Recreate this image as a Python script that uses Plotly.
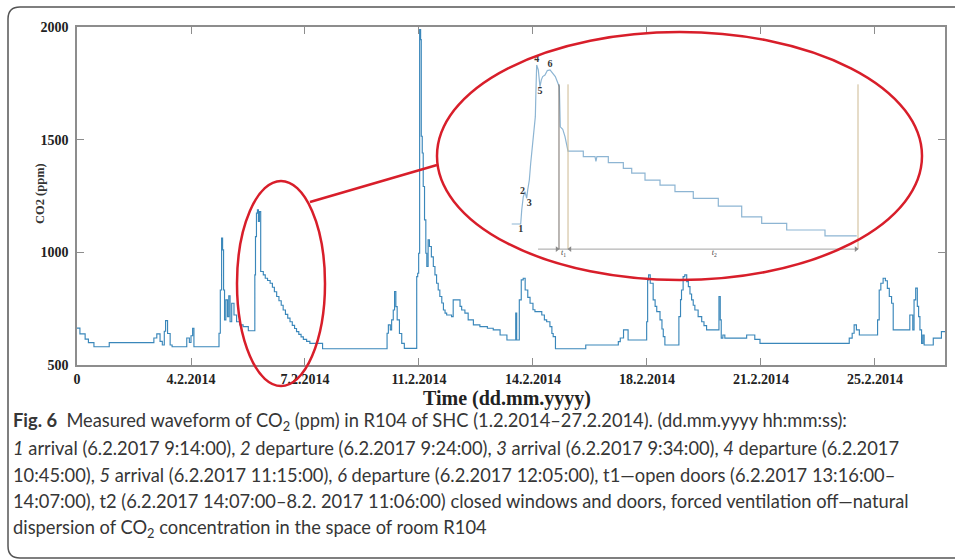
import plotly.graph_objects as go

W, H = 955, 560

# CO2 record in room R104, days since 1.2.2014 00:00 (sample-and-hold values, ppm)
days = [0.00, 0.09, 0.25, 0.35, 0.52, 0.99, 2.36, 2.45, 2.55, 2.62, 2.68, 2.72, 2.78, 2.86,
        2.92, 3.37, 3.45, 3.50, 3.55, 3.59, 4.36, 4.40, 4.44, 4.47, 4.50, 4.53, 4.57, 4.62,
        4.66, 4.70, 4.75, 4.82, 4.90, 5.00, 5.10, 5.26, 5.46, 5.48, 5.51, 5.54, 5.57, 5.60,
        5.64, 5.72, 5.78, 5.85, 5.93, 6.00, 6.06, 6.13, 6.20, 6.27, 6.33, 6.40, 6.47, 6.54,
        6.61, 6.68, 6.74, 6.81, 6.88, 6.95, 7.05, 7.15, 7.54, 9.52, 9.56, 9.62, 9.66, 9.71,
        9.75, 9.79, 9.83, 9.90, 9.97, 10.05, 10.43, 10.46, 10.49, 10.52, 10.55, 10.57, 10.60,
        10.63, 10.67, 10.71, 10.74, 10.78, 10.82, 10.88, 10.94, 10.99, 11.04, 11.09, 11.14,
        11.20, 11.25, 11.30, 11.35, 11.50, 11.55, 11.76, 11.81, 11.91, 12.01, 12.17, 12.37,
        12.60, 12.78, 12.99, 13.20, 13.47, 13.50, 13.58, 13.64, 13.70, 13.76, 13.84, 13.91,
        14.00, 14.06, 14.27, 14.35, 14.42, 14.52, 14.58, 14.62, 14.69, 15.62, 16.62, 16.68,
        16.78, 16.92, 17.49, 17.52, 17.55, 17.60, 17.69, 17.75, 17.80, 17.90, 17.96, 18.00,
        18.05, 18.48, 18.53, 18.56, 18.61, 18.66, 18.72, 18.77, 18.82, 18.87, 18.92, 18.97,
        19.07, 19.18, 19.25, 19.33, 19.71, 19.75, 19.78, 19.83, 19.89, 20.56, 20.81, 20.97,
        23.71, 23.80, 23.86, 23.93, 24.02, 24.58, 24.63, 24.68, 24.75, 24.82, 24.88, 24.94,
        25.01, 25.06, 25.57, 25.66, 25.70, 25.75, 25.80, 25.84, 25.88, 25.93, 25.97, 26.01,
        26.29, 26.54, 26.65]
co2 = [664, 638, 615, 599, 581, 599, 620, 638, 605, 589, 650, 697, 640, 589,
       581, 620, 600, 630, 663, 581, 641, 833, 1063, 1011, 833, 700, 789, 715,
       807, 692, 774, 722, 692, 678, 670, 652, 900, 1070, 1174, 1189, 1137, 1181,
       915, 900, 885, 875, 863, 845, 825, 804, 785, 765, 744, 725, 708, 692,
       676, 662, 648, 636, 625, 614, 605, 596, 572, 641, 678, 656, 700, 744,
       826, 759, 700, 640, 596, 574, 892, 907, 996, 1989, 1944, 1515, 1441,
       1292, 1144, 996, 937, 1056, 1026, 980, 937, 900, 863, 833, 804,
       775, 744, 730, 722, 715, 789, 760, 744, 730, 700, 678, 670,
       663, 656, 633, 611, 730, 611, 789, 878, 885, 833, 800, 774,
       745, 737, 722, 700, 692, 670, 640, 626, 572, 589, 604, 620,
       656, 611, 692, 878, 900, 863, 789, 760, 737, 700, 660, 626,
       589, 715, 790, 833, 892, 900, 870, 848, 815, 789, 765, 744,
       715, 692, 675, 656, 804, 700, 619, 633, 619, 633, 614, 596,
       619, 641, 678, 656, 633, 700, 833, 863, 885, 874, 840, 804,
       774, 656, 722, 656, 789, 841, 760, 715, 656, 596, 633, 589,
       619, 648, 648]

tick_days = [0, 3.5, 7, 10.5, 14, 17.5, 21, 24.5]
tick_text = ["0", "4.2.2014", "7.2.2014", "11.2.2014", "14.2.2014",
             "18.2.2014", "21.2.2014", "25.2.2014"]
y_ticks = [500, 1000, 1500, 2000]

# Detail of 6.2.2014 - 8.2.2014 (hours from 6.2.2014 00:00, time axis compressed, ppm)
det_h = [5.39, 6.78, 6.94, 7.18, 7.45, 7.71, 7.87, 8.12, 8.33, 8.58, 8.84, 9.05, 9.15,
         9.26, 9.51, 9.77, 9.98, 10.19, 10.55, 10.91, 11.33, 11.74, 12.15, 12.57, 12.77,
         12.92, 13.30, 13.65, 14.01, 14.12, 16.49, 16.49, 18.31, 18.45, 18.60, 20.37,
         20.37, 22.70, 22.70, 24.00, 24.00, 26.06, 26.06, 28.39, 28.39, 30.71, 30.71,
         33.55, 33.55, 37.43, 37.43, 41.06, 41.06, 44.16, 44.16, 48.04, 48.04, 53.98,
         53.98, 58.90]
det_ppm = [651, 651, 698, 742, 759, 737, 765, 798, 854, 910, 965, 1010, 1099,
           1183, 1166, 1110, 1133, 1144, 1149, 1164, 1166, 1155, 1144, 1121, 1110,
           976, 968, 943, 898, 895, 895, 876, 876, 860, 876, 876,
           856, 856, 837, 837, 821, 821, 798, 798, 781, 781, 759,
           759, 737, 737, 711, 711, 675, 675, 653, 653, 631, 631,
           611, 611]
event_names = ["1", "2", "3", "4", "5", "6"]
event_idx = [1, 4, 5, 13, 15, 20]
event_pos = ["bottom center", "middle left", "bottom right", "top center",
             "bottom center", "top center"]
t1_start, t1_end, t2_end = 12.72, 14.12, 59.10
det_start, det_floor, det_top = 9.47, 567, 1118
t2_label_at = 36.8


def px(x):
    return x / W


def py(y):
    return 1 - y / H


serif = "Liberation Serif"
axis_grey = "#8d8d8d"
red = "#d81e2a"

fig = go.Figure()

fig.add_trace(go.Scatter(
    x=days, y=co2, mode="lines", line=dict(color="#3a87ba", width=1.15, shape="hv"),
    xaxis="x", yaxis="y", hoverinfo="skip", showlegend=False))

# detail curve
fig.add_trace(go.Scatter(
    x=det_h, y=det_ppm, mode="lines", line=dict(color="#8db5d3", width=1.2),
    xaxis="x2", yaxis="y2", hoverinfo="skip", showlegend=False))
# time base of the detail with interval marks
fig.add_trace(go.Scatter(
    x=[det_start, t2_end], y=[det_floor, det_floor], mode="lines",
    line=dict(color="#a3a3a3", width=1), xaxis="x2", yaxis="y2",
    hoverinfo="skip", showlegend=False))
for xv, col in [(t1_start, "#77706a"), (t1_end, "#cdb991"), (t2_end, "#cdb991")]:
    fig.add_trace(go.Scatter(
        x=[xv, xv], y=[det_floor, det_top], mode="lines",
        line=dict(color=col, width=1), xaxis="x2", yaxis="y2",
        hoverinfo="skip", showlegend=False))
fig.add_trace(go.Scatter(
    x=[t1_start - 0.3, t1_end + 0.3, t2_end - 0.3], y=[det_floor] * 3, mode="markers",
    marker=dict(symbol=["triangle-right", "triangle-left", "triangle-right"],
                size=5, color="#8a8a8a", line=dict(width=0)),
    xaxis="x2", yaxis="y2", hoverinfo="skip", showlegend=False))

# event numbers on the detail curve
fig.add_trace(go.Scatter(
    x=[det_h[i] for i in event_idx], y=[det_ppm[i] for i in event_idx],
    mode="text", text=event_names, textposition=event_pos,
    textfont=dict(family=serif, size=10, color="#333", weight="bold"),
    xaxis="x2", yaxis="y2", hoverinfo="skip", showlegend=False))
# interval names under the time base
fig.add_trace(go.Scatter(
    x=[(t1_start + t1_end) / 2, t2_label_at], y=[det_floor, det_floor],
    mode="text", text=["<i>t</i><sub>1</sub>", "<i>t</i><sub>2</sub>"],
    textposition="bottom center",
    textfont=dict(family=serif, size=8, color="#444"),
    xaxis="x2", yaxis="y2", hoverinfo="skip", showlegend=False))

ann = []
# axis titles
ann.append(dict(x=px(40), y=py(194), xref="paper", yref="paper", text="CO2 (ppm)",
                textangle=-90, showarrow=False, xanchor="center", yanchor="middle",
                font=dict(family=serif, size=12.5, color="#333", weight="bold")))
ann.append(dict(x=px(507), y=py(398), xref="paper", yref="paper",
                text="Time (dd.mm.yyyy)", showarrow=False,
                xanchor="center", yanchor="middle",
                font=dict(family=serif, size=20, color="#222", weight="bold")))

caption = [
    "<b>Fig. 6</b>\u00a0 Measured waveform of CO<sub>2</sub> (ppm) in R104 of SHC "
    "(1.2.2014–27.2.2014). (dd.mm.yyyy hh:mm:ss):",
    "<i>1</i> arrival (6.2.2017 9:14:00), <i>2</i> departure (6.2.2017 9:24:00), "
    "<i>3</i> arrival (6.2.2017 9:34:00), <i>4</i> departure (6.2.2017",
    "10:45:00), <i>5</i> arrival (6.2.2017 11:15:00), <i>6</i> departure "
    "(6.2.2017 12:05:00), t1—open doors (6.2.2017 13:16:00–",
    "14:07:00), t2 (6.2.2017 14:07:00–8.2. 2017 11:06:00) closed windows and doors, "
    "forced ventilation off—natural",
    "dispersion of CO<sub>2</sub> concentration in the space of room R104",
]
for k, line in enumerate(caption):
    ann.append(dict(x=px(11), y=py(421 + 26.8 * k), xref="paper", yref="paper",
                    xanchor="left", yanchor="middle", text=line, showarrow=False,
                    font=dict(family="Lato", size=18.3, color="#363636")))

shapes = []
# rounded frame around figure and caption
r = 12
frame = (f"M {px(965)},{py(7)} L {px(8 + r)},{py(7)} Q {px(8)},{py(7)} {px(8)},{py(7 + r)} "
         f"L {px(8)},{py(558 - r)} Q {px(8)},{py(558)} {px(8 + r)},{py(558)} L {px(965)},{py(558)}")
shapes.append(dict(type="path", path=frame, xref="paper", yref="paper",
                   line=dict(color="#555", width=1.5)))
# highlight of 6.2.2014 and its enlargement
shapes.append(dict(type="circle", xref="paper", yref="paper",
                   x0=px(237), x1=px(325), y0=py(386), y1=py(181),
                   line=dict(color=red, width=2.5)))
shapes.append(dict(type="circle", xref="paper", yref="paper",
                   x0=px(437), x1=px(922), y0=py(280), y1=py(32),
                   line=dict(color=red, width=2.5)))
shapes.append(dict(type="line", xref="paper", yref="paper",
                   x0=px(310), y0=py(202), x1=px(437), y1=py(165),
                   line=dict(color=red, width=2.5)))

tickfont = dict(family=serif, size=14, color="#222", weight="bold")
fig.update_layout(
    width=W, height=H, margin=dict(l=0, r=0, t=0, b=0, autoexpand=False),
    paper_bgcolor="white", plot_bgcolor="white", showlegend=False,
    xaxis=dict(domain=[px(77), px(945)], range=[0, 26.65], tickvals=tick_days,
               ticktext=tick_text, ticks="inside", ticklen=7, tickcolor=axis_grey,
               showline=True, linecolor=axis_grey, linewidth=1.5, mirror="ticks",
               showgrid=False, zeroline=False, tickfont=tickfont, anchor="y",
               automargin=False),
    yaxis=dict(domain=[py(365), py(27)], range=[500, 2000], tickvals=y_ticks,
               ticks="inside", ticklen=7, tickcolor=axis_grey,
               showline=True, linecolor=axis_grey, linewidth=1.5, mirror="ticks",
               showgrid=False, zeroline=False, tickfont=tickfont, anchor="x",
               ticklabelstandoff=4, automargin=False),
    xaxis2=dict(domain=[px(500), px(870)], range=[3.57, 60.96], visible=False,
                anchor="y2"),
    yaxis2=dict(domain=[py(260), py(40)], range=[530.6, 1266.3], visible=False,
                anchor="x2"),
    annotations=ann, shapes=shapes,
)

fig.write_html("out.html", post_script="document.body.style.margin='0';")
